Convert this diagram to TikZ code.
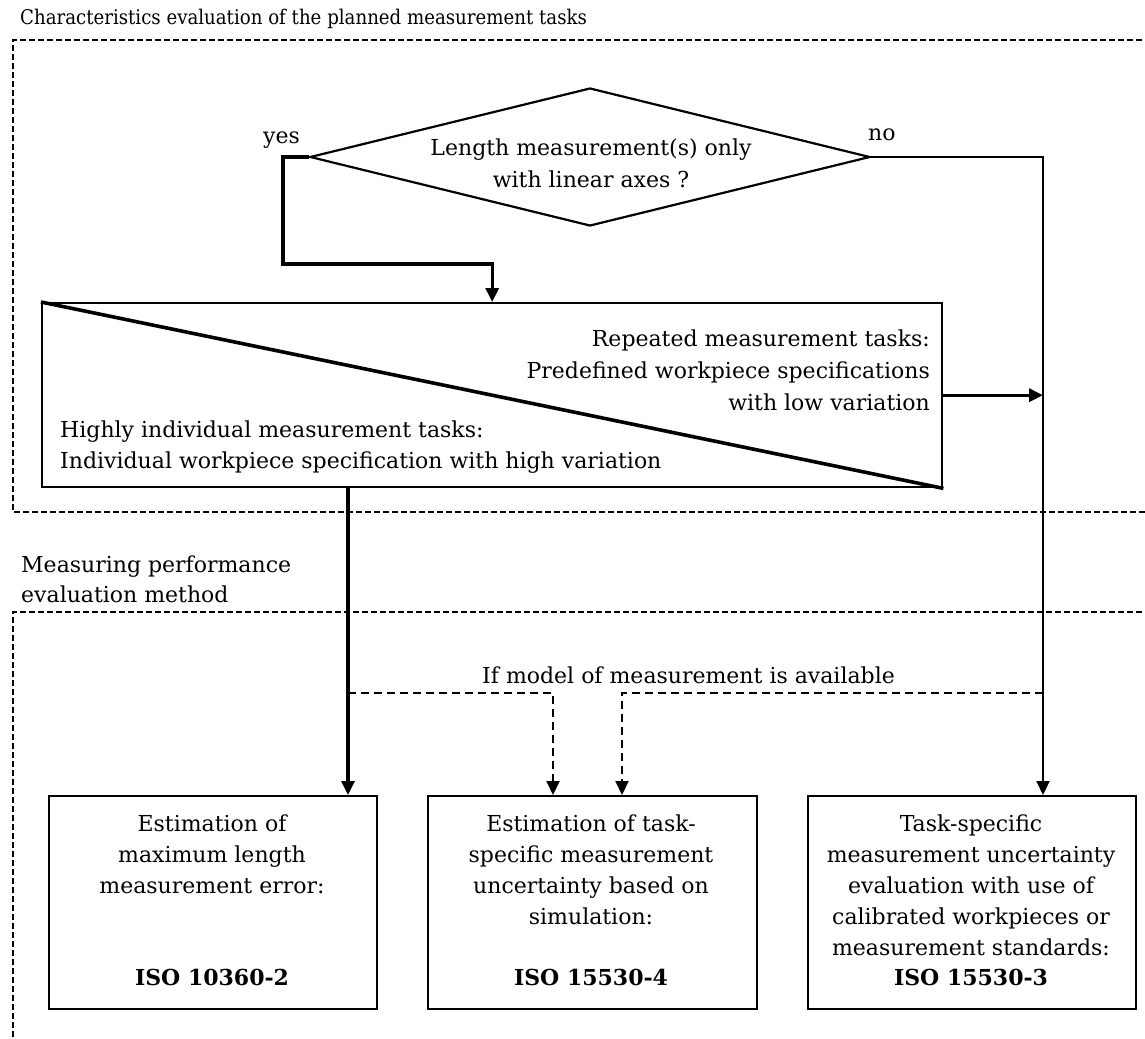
\documentclass[tikz,border=0pt]{standalone}
\usepackage{fontspec}
\setmainfont{DejaVu Serif}
\newfontfamily\condfont{DejaVu Serif Condensed}
\usetikzlibrary{arrows.meta,shapes.geometric}
\begin{document}
\begin{tikzpicture}[x=1pt,y=-1pt,
  txt/.style={font=\fontsize{22}{31}\selectfont, inner sep=0pt},
  ttl/.style={font=\condfont\fontsize{20.2}{24}\selectfont, inner sep=0pt},
  isotxt/.style={font=\fontsize{22}{31}\selectfont\bfseries, inner sep=0pt},
  frame/.style={line width=1.6pt, dash pattern=on 6pt off 3pt},
  boxst/.style={draw, line width=2.4pt, inner sep=0pt, anchor=north west},
  thin/.style={line width=2.2pt},
  bold/.style={line width=3.2pt},
  dashcon/.style={line width=2pt, dash pattern=on 8pt off 5pt},
  tip/.style={-{Triangle[length=14pt,width=13pt]}}]
\path[use as bounding box] (0,0) rectangle (1145,1038);
\clip (0,0) rectangle (1145,1038);
\fill[white] (0,0) rectangle (1145,1038);

% frames
\draw[frame] (1160,40) -| (13,512) -- (1160,512);
\draw[frame] (1160,612) -| (13,1060);

% labels of frames
\node[ttl, anchor=base west] (title) at (20,25) {Characteristics evaluation of the planned measurement tasks};
\node[txt, anchor=base west] (mp1) at (21,572) {Measuring performance};
\node[txt, anchor=base west] (mp2) at (21,602) {evaluation method};

% decision
\node[diamond, draw, line width=2.2pt, minimum width=560pt, minimum height=138pt, inner sep=0pt] (dia) at (590,157) {};
\node[txt, anchor=base] (d1) at (591,155) {Length measurement(s) only};
\node[txt, anchor=base] (d2) at (591,187) {with linear axes ?};
\node[txt, anchor=base west] (yes) at (263,143) {yes};
\node[txt, anchor=base west] (no) at (868,140) {no};

% big box
\node[boxst, minimum width=900pt, minimum height=184pt] (bb) at (41,302) {};
\draw[line width=3.6pt] (bb.north west) -- (bb.south east);
\node[txt, anchor=base east] (r1) at (930,346) {Repeated measurement tasks:};
\node[txt, anchor=base east] (r2) at (930,378) {Predefined workpiece specifications};
\node[txt, anchor=base east] (r3) at (930,410) {with low variation};
\node[txt, anchor=base west] (l1) at (60,437) {Highly individual measurement tasks:};
\node[txt, anchor=base west] (l2) at (60,468) {Individual workpiece specification with high variation};

% bottom boxes
\node[boxst, minimum width=328pt, minimum height=213pt] (b1) at (48,795) {};
\node[boxst, minimum width=329pt, minimum height=213pt] (b2) at (427,795) {};
\node[boxst, minimum width=328pt, minimum height=213pt] (b3) at (807,795) {};

\foreach \t [count=\i] in {Estimation of, maximum length, measurement error:}
  \node[txt, anchor=base] (b1l\i) at (212,831+31*\i-31) {\t};
\node[isotxt, anchor=base] (b1iso) at (212,985) {ISO 10360-2};
\foreach \t [count=\i] in {Estimation of task-, specific measurement, uncertainty based on, simulation:}
  \node[txt, anchor=base] (b2l\i) at (591,831+31*\i-31) {\t};
\node[isotxt, anchor=base] (b2iso) at (591,985) {ISO 15530-4};
\foreach \t [count=\i] in {Task-specific, measurement uncertainty, evaluation with use of, calibrated workpieces or, measurement standards:}
  \node[txt, anchor=base] (b3l\i) at (971,831+31*\i-31) {\t};
\node[isotxt, anchor=base] (b3iso) at (971,985) {ISO 15530-3};

% connector coordinates
\coordinate (b1in) at (348,795);
\coordinate (b2inL) at (553,795);
\coordinate (b2inR) at (622,795);
\coordinate (b3in) at (1043,795);
\coordinate (yesx) at (283,157);
\coordinate (yesy) at (283,264);
\coordinate (split1) at (348,693);
\coordinate (split2) at (1043,693);

% connectors
\draw[bold, tip] (dia.west) -- (yesx) -- (yesy) -| (bb.north);
\draw[thin, tip] (dia.east) -| (b3in);
\draw[bold, tip] (bb.east) -- (bb.east -| b3in);
\draw[bold, tip] (b1in |- bb.south) -- (b1in);
\draw[dashcon, tip] (split1) -| (b2inL);
\draw[dashcon, tip] (split2) -| (b2inR);
\node[txt, anchor=base west] (model) at (482,683) {If model of measurement is available};
\end{tikzpicture}
\end{document}
